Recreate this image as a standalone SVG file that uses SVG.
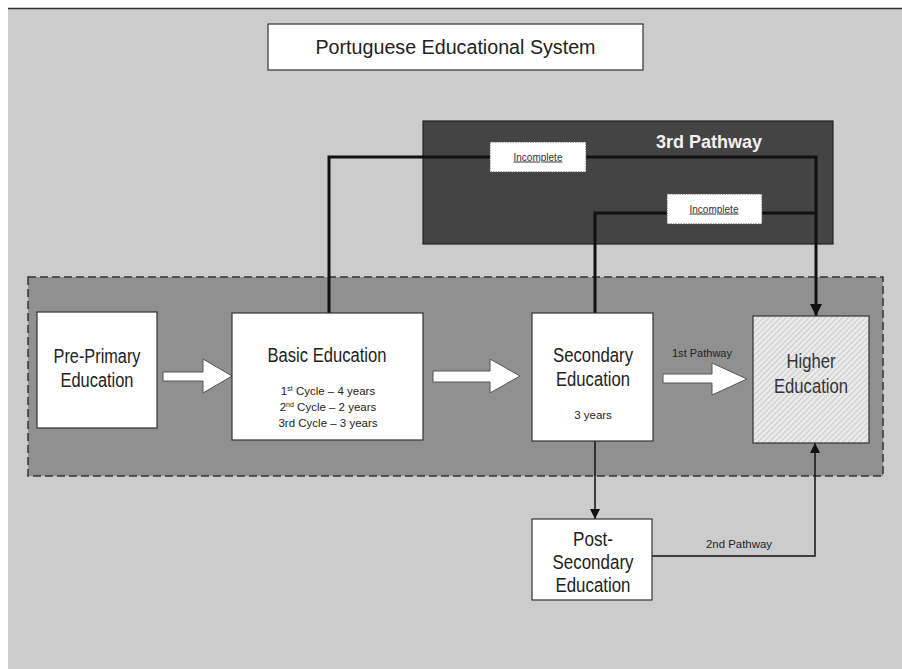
<svg xmlns="http://www.w3.org/2000/svg" width="902" height="669" viewBox="0 0 902 669">
<defs>
<style>
text{font-family:"Liberation Sans",Arial,sans-serif;fill:#222}
.box{fill:#fff;stroke:#333;stroke-width:1.2}
.big{font-size:20px;text-anchor:middle}
.small{font-size:11.5px;text-anchor:middle}
.inc{fill:#fff;stroke:#555;stroke-width:1;stroke-dasharray:1.5,1}
.inct{font-size:10px;text-anchor:middle;text-decoration:underline;fill:#333}
.thick{fill:none;stroke:#111;stroke-width:3}
.thin{fill:none;stroke:#111;stroke-width:1.5}
.block{fill:#fff;stroke:#555;stroke-width:1}
</style>
<pattern id="hatch" width="4" height="4" patternUnits="userSpaceOnUse" patternTransform="rotate(45)">
<rect width="4" height="4" fill="#eaeaea"/>
<line x1="0" y1="0" x2="0" y2="4" stroke="#b5b5b5" stroke-width="1.2"/>
</pattern>
<marker id="ah" viewBox="0 0 10 10" refX="10" refY="5" markerWidth="10" markerHeight="10" markerUnits="userSpaceOnUse" orient="auto">
<path d="M0,0 L10,5 L0,10 Z" fill="#111"/>
</marker>
<marker id="ahBig" viewBox="0 0 10 10" refX="10" refY="5" markerWidth="14" markerHeight="12" markerUnits="userSpaceOnUse" orient="auto">
<path d="M0,0 L10,5 L0,10 Z" fill="#111"/>
</marker>
</defs>

<g id="background">
<rect x="0" y="0" width="902" height="669" fill="#fff"/>
<rect x="8" y="8" width="894" height="661" fill="#cccccc"/>
<line x1="8" y1="8.5" x2="902" y2="8.5" stroke="#333" stroke-width="1.5"/>
</g>

<g id="title">
<rect class="box" x="268" y="24" width="375" height="46"/>
<text x="455.5" y="54" font-size="20" text-anchor="middle" textLength="280" lengthAdjust="spacingAndGlyphs">Portuguese Educational System</text>
</g>

<g id="third-pathway">
<rect x="423" y="121" width="410" height="123" fill="#444" stroke="#222" stroke-width="1.2"/>
<text x="709" y="148" font-size="18" font-weight="bold" text-anchor="middle" style="fill:#f2f2f2">3rd Pathway</text>
</g>

<g id="main-region">
<rect x="28" y="277" width="855" height="199" fill="#909090" stroke="#333" stroke-width="1.5" stroke-dasharray="8,4"/>
</g>

<g id="connectors">
<path class="thick" d="M329,313 V157 H816 V316" marker-end="url(#ahBig)"/>
<path class="thick" d="M595,313 V213 H816"/>
<path class="thin" d="M595,441 V519" marker-end="url(#ah)"/>
<path class="thin" d="M652,556 H815 V443" marker-end="url(#ah)"/>
<polygon class="block" points="163,372 203,372 203,359 232,376 203,393 203,381 163,381"/>
<polygon class="block" points="433,371 490,371 490,359 520,376 490,393 490,382 433,382"/>
<polygon class="block" points="663,374 712,374 712,363 747,379 712,395 712,383 663,383"/>
<text x="702" y="357" font-size="11.5" text-anchor="middle" textLength="60" lengthAdjust="spacingAndGlyphs">1st Pathway</text>
<text x="739" y="548" font-size="11.5" text-anchor="middle" textLength="66" lengthAdjust="spacingAndGlyphs">2nd Pathway</text>
</g>

<g id="incomplete-1">
<rect class="inc" x="490" y="142" width="96" height="30"/>
<text class="inct" x="538" y="160.5">Incomplete</text>
</g>

<g id="incomplete-2">
<rect class="inc" x="667" y="194" width="95" height="30"/>
<text class="inct" x="714" y="212.5">Incomplete</text>
</g>

<g id="pre-primary">
<rect class="box" x="37" y="312" width="120" height="116"/>
<text class="big" x="97" y="363" textLength="87" lengthAdjust="spacingAndGlyphs">Pre-Primary</text>
<text class="big" x="97" y="387" textLength="73" lengthAdjust="spacingAndGlyphs">Education</text>
</g>

<g id="basic">
<rect class="box" x="232" y="313" width="191" height="127"/>
<text class="big" x="327" y="362" textLength="119" lengthAdjust="spacingAndGlyphs">Basic Education</text>
<text class="small" x="328" y="395">1<tspan font-size="7" dy="-4">st</tspan><tspan dy="4"> Cycle – 4 years</tspan></text>
<text class="small" x="328" y="411">2<tspan font-size="7" dy="-4">nd</tspan><tspan dy="4"> Cycle – 2 years</tspan></text>
<text class="small" x="328" y="427">3rd Cycle – 3 years</text>
</g>

<g id="secondary">
<rect class="box" x="532" y="313" width="121" height="128"/>
<text class="big" x="593" y="362" textLength="80" lengthAdjust="spacingAndGlyphs">Secondary</text>
<text class="big" x="593" y="386" textLength="74" lengthAdjust="spacingAndGlyphs">Education</text>
<text class="small" x="593" y="419">3 years</text>
</g>

<g id="higher">
<rect x="753" y="316" width="116" height="127" fill="url(#hatch)" stroke="#333" stroke-width="1.2"/>
<text class="big" x="811" y="368" textLength="49" lengthAdjust="spacingAndGlyphs" style="fill:#333">Higher</text>
<text class="big" x="811" y="393" textLength="74" lengthAdjust="spacingAndGlyphs" style="fill:#333">Education</text>
</g>

<g id="post-secondary">
<rect class="box" x="532" y="519" width="120" height="81"/>
<text class="big" x="593" y="546" textLength="40" lengthAdjust="spacingAndGlyphs">Post-</text>
<text class="big" x="593" y="569" textLength="81" lengthAdjust="spacingAndGlyphs">Secondary</text>
<text class="big" x="593" y="592" textLength="75" lengthAdjust="spacingAndGlyphs">Education</text>
</g>
</svg>
